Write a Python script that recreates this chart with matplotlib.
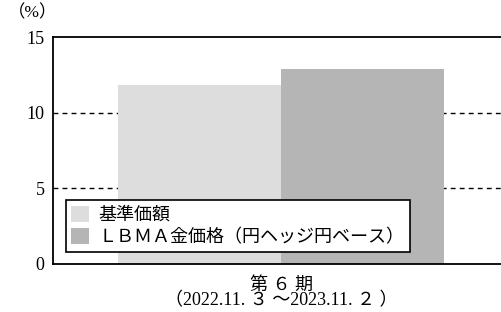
import matplotlib
matplotlib.use("Agg")
from matplotlib import pyplot as plt

plt.rcParams['font.family'] = ['Liberation Serif', 'Noto Sans CJK JP']

# data
series_names = ["基準価額", "ＬＢＭＡ金価格（円ヘッジ円ベース）"]
series_values = [11.8, 12.9]
series_colors = ["#dcdddc", "#b4b5b4"]
period_label = "第 ６ 期\n（2022.11. ３ ～2023.11. ２ ）"
y_ticks = [0, 5, 10, 15]

fig = plt.figure(figsize=(5.01, 3.12), dpi=100)
ax = fig.add_axes([53 / 501, 48 / 312, 448 / 501, 227 / 312])

# two bars side by side around the single period
offsets = [-0.5, 0.5]
for off, val, col, name in zip(offsets, series_values, series_colors, series_names):
    ax.bar(off, val, width=1.0, color=col, label=name, zorder=2)

ax.set_ylim(0, 15)
ax.set_xlim(-1.4, 1.35)
ax.set_yticks(y_ticks)
ax.set_yticklabels([str(t) for t in y_ticks], fontsize=13)
ax.set_xticks([0])
ax.set_xticklabels([period_label], fontsize=13, linespacing=0.88)
ax.tick_params(axis='y', length=0, pad=6)
ax.tick_params(axis='x', length=0, pad=9)

# dashed gridlines at 5 and 10
for yv in [5, 10]:
    ax.axhline(yv, color="black", linestyle=(0, (3.5, 3)), linewidth=1.0, zorder=1)

ax.spines['right'].set_visible(False)
for s in ['left', 'top', 'bottom']:
    ax.spines[s].set_linewidth(1.3)

ax.text(-0.1, 1.07, "（%）", transform=ax.transAxes, fontsize=12.5, ha='left', va='bottom')

leg = ax.legend(loc='lower left', bbox_to_anchor=(0.029, 0.053), borderaxespad=0,
                fancybox=False, edgecolor="black", framealpha=1, fontsize=13,
                handlelength=1.0, handleheight=1.0, handletextpad=0.5,
                labelspacing=0.25, borderpad=0.3)
leg.get_frame().set_linewidth(1.2)
leg.set_zorder(5)

fig.savefig("out.png", dpi=100)
